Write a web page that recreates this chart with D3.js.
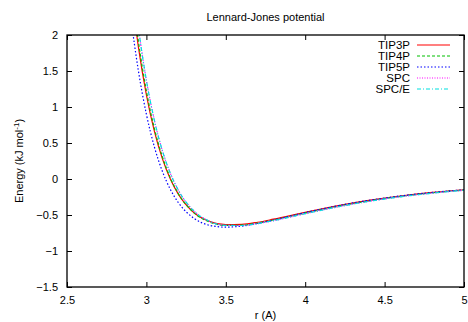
<!DOCTYPE html>
<html>
<head>
<meta charset="utf-8">
<script src="https://cdn.jsdelivr.net/npm/d3@7"></script>
<style>
  body { margin: 0; background: #fff; }
  text { font-family: "Liberation Sans", Arial, sans-serif; fill: #000; }
</style>
</head>
<body>
<svg id="chart" width="468" height="322"></svg>
<script>
// distances (A) where the curves were read
const rValues = [2.85, 2.9, 2.95, 3.0, 3.05, 3.1, 3.15, 3.2, 3.3, 3.4, 3.5, 3.6, 3.7, 3.8, 4.0, 4.2, 4.4, 4.6, 4.8, 5.0];

// energies (kJ/mol)
const tip3p = [3.60, 2.697, 1.828, 1.167, 0.665, 0.286, 0.003, -0.207, -0.468, -0.591, -0.634, -0.630, -0.601, -0.558, -0.463, -0.373, -0.297, -0.236, -0.187, -0.149];
const tip4p = [3.74, 2.803, 1.906, 1.222, 0.703, 0.312, 0.018, -0.199, -0.470, -0.600, -0.645, -0.642, -0.613, -0.570, -0.473, -0.381, -0.304, -0.241, -0.192, -0.153];
const tip5p = [3.325, 2.287, 1.498, 0.899, 0.448, 0.110, -0.141, -0.324, -0.547, -0.644, -0.669, -0.654, -0.617, -0.569, -0.467, -0.374, -0.297, -0.235, -0.187, -0.149];
const spc = [4.07, 3.051, 2.098, 1.370, 0.817, 0.398, 0.083, -0.151, -0.446, -0.590, -0.644, -0.646, -0.620, -0.579, -0.482, -0.390, -0.311, -0.247, -0.197, -0.157];
const spce = [4.07, 3.051, 2.098, 1.370, 0.817, 0.398, 0.083, -0.151, -0.446, -0.590, -0.644, -0.646, -0.620, -0.579, -0.482, -0.390, -0.311, -0.247, -0.197, -0.157];

const seriesNames = ['TIP3P', 'TIP4P', 'TIP5P', 'SPC', 'SPC/E'];
const xTicks = [2.5, 3, 3.5, 4, 4.5, 5];
const yTicks = [-1.5, -1, -0.5, 0, 0.5, 1, 1.5, 2];

const series = [
  { name: seriesNames[0], values: tip3p, color: '#ff0000', dash: null },
  { name: seriesNames[1], values: tip4p, color: '#00c000', dash: '3,2' },
  { name: seriesNames[2], values: tip5p, color: '#0000ff', dash: '1.5,2' },
  { name: seriesNames[3], values: spc, color: '#ff00ff', dash: '1,1.5' },
  { name: seriesNames[4], values: spce, color: '#00e0e0', dash: '4,2,1,2' }
];

const svg = d3.select('#chart');
const margin = {top: 35, right: 4, bottom: 35, left: 67};
const width = 468 - margin.left - margin.right;
const height = 322 - margin.top - margin.bottom;
const g = svg.append('g').attr('transform', 'translate(' + margin.left + ',' + margin.top + ')');

const x = d3.scaleLinear().domain([2.5, 5]).range([0, width]);
const y = d3.scaleLinear().domain([-1.5, 2]).range([height, 0]);

g.append('defs').append('clipPath')
    .attr('id', 'clip')
    .append('rect')
    .attr('width', width)
    .attr('height', height);

// axes with inward ticks, mirrored on top and right
const tickLen = 5;
g.append('g')
    .attr('transform', 'translate(0,' + height + ')')
    .call(d3.axisBottom(x).tickValues(xTicks).tickSizeInner(-tickLen).tickSizeOuter(0).tickPadding(9).tickFormat(d3.format('')))
    .call(s => s.select('.domain').remove());
g.append('g')
    .call(d3.axisTop(x).tickValues(xTicks).tickSizeInner(-tickLen).tickSizeOuter(0).tickFormat(''))
    .call(s => s.select('.domain').remove());
g.append('g')
    .call(d3.axisLeft(y).tickValues(yTicks).tickSizeInner(-tickLen).tickSizeOuter(0).tickPadding(9).tickFormat(d3.format('')))
    .call(s => s.select('.domain').remove());
g.append('g')
    .attr('transform', 'translate(' + width + ',0)')
    .call(d3.axisRight(y).tickValues(yTicks).tickSizeInner(-tickLen).tickSizeOuter(0).tickFormat(''))
    .call(s => s.select('.domain').remove());

g.selectAll('.tick text').style('font-size', '11px').style('font-family', '"Liberation Sans", Arial, sans-serif');
g.selectAll('.tick line').attr('stroke', '#000');

const line = d3.line()
    .curve(d3.curveMonotoneX)
    .x((d, i) => x(rValues[i]))
    .y(d => y(d));

g.append('g')
    .attr('clip-path', 'url(#clip)')
    .selectAll('path')
    .data(series)
    .join('path')
    .attr('fill', 'none')
    .attr('stroke', d => d.color)
    .attr('stroke-width', 1.2)
    .attr('stroke-dasharray', d => d.dash)
    .attr('d', d => line(d.values));

g.append('rect')
    .attr('width', width)
    .attr('height', height)
    .attr('fill', 'none')
    .attr('stroke', '#000')
    .attr('stroke-width', 1.3);

// legend
const legend = g.append('g').attr('transform', 'translate(' + (343 - margin.left) + ',' + (45 - margin.top) + ')');
series.forEach((s, i) => {
  const row = legend.append('g').attr('transform', 'translate(0,' + (i * 11) + ')');
  row.append('text')
      .attr('x', 67)
      .attr('y', 4)
      .attr('text-anchor', 'end')
      .style('font-size', '11.5px')
      .text(s.name);
  row.append('line')
      .attr('x1', 74).attr('x2', 107)
      .attr('stroke', s.color)
      .attr('stroke-width', 1.2)
      .attr('stroke-dasharray', s.dash);
});

// titles
svg.append('text')
    .attr('x', margin.left + width / 2)
    .attr('y', 21)
    .attr('text-anchor', 'middle')
    .style('font-size', '11px')
    .text('Lennard-Jones potential');

svg.append('text')
    .attr('x', margin.left + width / 2)
    .attr('y', 319)
    .attr('text-anchor', 'middle')
    .style('font-size', '11px')
    .text('r (A)');

const yl = svg.append('text')
    .attr('transform', 'translate(23,161) rotate(-90)')
    .attr('text-anchor', 'middle')
    .style('font-size', '11px');
yl.append('tspan').text('Energy (kJ mol');
yl.append('tspan').attr('dy', -4).style('font-size', '8px').text('-1');
yl.append('tspan').attr('dy', 4).text(')');
</script>
</body>
</html>
